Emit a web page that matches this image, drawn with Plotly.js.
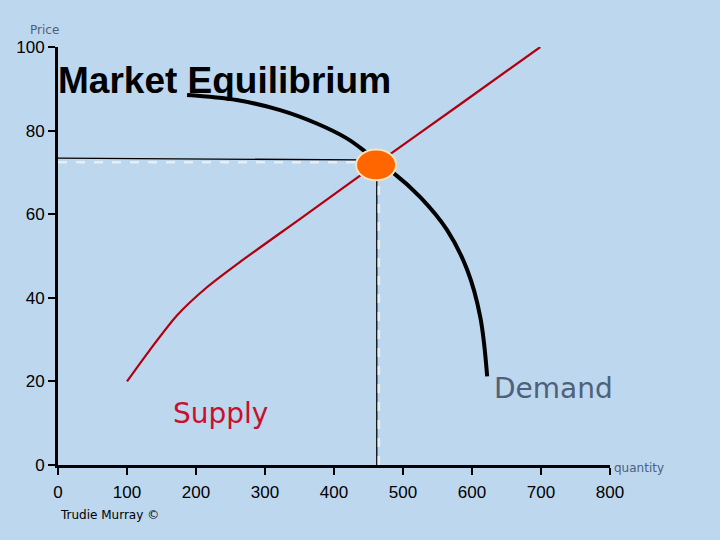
<!DOCTYPE html>
<html>
<head>
<meta charset="utf-8">
<script src="https://cdn.plot.ly/plotly-3.0.1.min.js"></script>
<style>
  html, body { margin: 0; padding: 0; background: #BDD7EE; }
  #chart { width: 720px; height: 540px; }
</style>
</head>
<body>
<div id="chart"></div>
<script>
// supply curve (red)
const supplyQ = [100, 133, 172, 215, 264, 351, 461, 583, 699];
const supplyP = [20, 27.5, 35.7, 42.4, 48.6, 58.9, 72, 86.3, 100];

// demand curve (black)
const demandQ = [187, 259, 322, 375, 418, 442, 462, 486, 525, 564, 593, 612, 622];
const demandP = [88.5, 87.3, 84.9, 81.7, 78.2, 75.4, 72.6, 69.9, 64.1, 56.2, 46.7, 35.4, 21.2];

// equilibrium point
const eqQ = 461;
const eqP = 71.8;

const xTicks = [0, 100, 200, 300, 400, 500, 600, 700, 800];
const yTicks = [0, 20, 40, 60, 80, 100];

const handFont = 'Comic Sans MS, DejaVu Sans, sans-serif';
const tickFont = { family: 'Liberation Sans, Arial, sans-serif', size: 17, color: '#000000' };

const traces = [
    {
        x: supplyQ,
        y: supplyP,
        mode: 'lines',
        type: 'scatter',
        line: { color: '#B00010', width: 2.2, shape: 'spline', smoothing: 0.6 },
        hoverinfo: 'skip'
    },
    {
        x: demandQ,
        y: demandP,
        mode: 'lines',
        type: 'scatter',
        line: { color: '#000000', width: 4, shape: 'spline', smoothing: 1 },
        hoverinfo: 'skip'
    }
];

const shapes = [
    // guide lines down to the axes
    { type: 'line', xref: 'x', yref: 'y', x0: 0, x1: eqQ - 22, y0: eqP + 1.6, y1: eqP + 1.2,
      line: { color: '#000000', width: 1.3 } },
    { type: 'line', xref: 'x', yref: 'y', x0: 0, x1: eqQ - 22, y0: eqP + 0.6, y1: eqP + 0.6,
      line: { color: '#E6EDF4', width: 2.5, dash: 'dash' } },
    { type: 'line', xref: 'x', yref: 'y', x0: eqQ + 1, x1: eqQ + 1, y0: 0, y1: eqP - 2,
      line: { color: '#000000', width: 1.3 } },
    { type: 'line', xref: 'x', yref: 'y', x0: eqQ + 4, x1: eqQ + 4, y0: 0, y1: eqP - 2,
      line: { color: '#E6EDF4', width: 2.5, dash: 'dash' } },
    // equilibrium blob
    { type: 'circle', xref: 'x', yref: 'y', x0: eqQ - 29, x1: eqQ + 29, y0: eqP - 3.7, y1: eqP + 3.7,
      fillcolor: '#FF6600', line: { color: '#FBE3C0', width: 2 } }
];

const annotations = [
    { text: 'Price', xref: 'paper', yref: 'paper', x: -0.024, y: 1.041,
      xanchor: 'center', yanchor: 'middle', showarrow: false,
      font: { family: handFont, size: 12, color: '#4F607A' } },
    { text: 'quantity', xref: 'paper', yref: 'paper', x: 1.003, y: -0.007,
      xanchor: 'left', yanchor: 'middle', showarrow: false,
      font: { family: handFont, size: 12, color: '#4F607A' } },
    { text: 'Trudie Murray ©', xref: 'paper', yref: 'paper', x: 0, y: -0.12,
      xanchor: 'left', yanchor: 'middle', showarrow: false,
      font: { family: handFont, size: 12, color: '#000000' } },
    { text: 'Supply', xref: 'paper', yref: 'paper', x: 0.294, y: 0.124,
      xanchor: 'center', yanchor: 'middle', showarrow: false,
      font: { family: handFont, size: 28, color: '#C8102E' } },
    { text: 'Demand', xref: 'paper', yref: 'paper', x: 0.897, y: 0.182,
      xanchor: 'center', yanchor: 'middle', showarrow: false,
      font: { family: handFont, size: 28, color: '#4F607A' } }
];

const layout = {
    width: 720,
    height: 540,
    paper_bgcolor: '#BDD7EE',
    plot_bgcolor: '#BDD7EE',
    margin: { l: 58, r: 110, t: 47, b: 75 },
    showlegend: false,
    title: {
        text: '<b>Market Equilibrium</b>',
        xref: 'container', yref: 'container',
        x: 58 / 720, xanchor: 'left',
        y: 1 - 80 / 540, yanchor: 'middle',
        font: { family: 'Liberation Sans, Arial, sans-serif', size: 37, color: '#000000' }
    },
    xaxis: {
        range: [0, 800],
        tickvals: xTicks,
        ticktext: xTicks.map(String),
        showgrid: false,
        zeroline: false,
        showline: true,
        linecolor: '#000000',
        linewidth: 3,
        ticks: 'outside',
        ticklen: 7,
        tickwidth: 2,
        tickcolor: '#000000',
        tickfont: tickFont,
        ticklabelstandoff: 3,
        fixedrange: true
    },
    yaxis: {
        range: [0, 100],
        tickvals: yTicks,
        ticktext: yTicks.map(String),
        showgrid: false,
        zeroline: false,
        showline: true,
        linecolor: '#000000',
        linewidth: 3,
        ticks: 'outside',
        ticklen: 7,
        tickwidth: 2,
        tickcolor: '#000000',
        tickfont: tickFont,
        fixedrange: true
    },
    shapes: shapes,
    annotations: annotations
};

Plotly.newPlot('chart', traces, layout, { displayModeBar: false, staticPlot: true });
</script>
</body>
</html>
